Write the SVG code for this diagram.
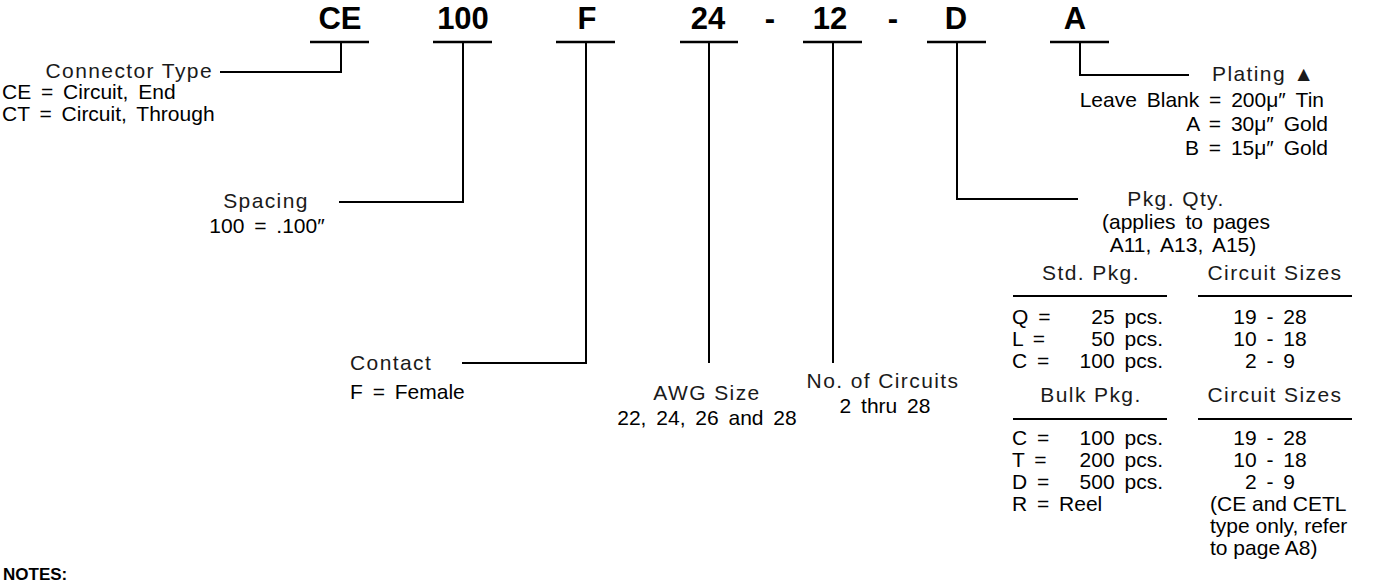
<svg xmlns="http://www.w3.org/2000/svg" width="1375" height="584" viewBox="0 0 1375 584">
<style>
text{font-family:"Liberation Sans",Arial,"DejaVu Sans",sans-serif;fill:#000}
.code{font-size:31px;font-weight:bold;text-anchor:middle}
.lbl{font-size:21px;letter-spacing:1.4px;fill:#1a1a1a}
.val{font-size:21px;word-spacing:4px}
.txt{font-size:21px}
.mid{text-anchor:middle}
.end{text-anchor:end}
.notes{font-size:17px;font-weight:bold}
.ln{stroke:#000;stroke-width:2;fill:none}
.ul{stroke:#000;stroke-width:2.5;fill:none}
</style>
<rect width="1375" height="584" fill="#fff"/>
<g id="codes">
<text class="code" x="340" y="29">CE</text>
<text class="code" x="463" y="29">100</text>
<text class="code" x="587" y="29">F</text>
<text class="code" x="708" y="29">24</text>
<text class="code" x="770" y="29">-</text>
<text class="code" x="830" y="29">12</text>
<text class="code" x="893" y="29">-</text>
<text class="code" x="956" y="29">D</text>
<text class="code" x="1075" y="29">A</text>
<path class="ul" d="M310 42H369M433 42H492M556 42H615M680 42H738M803 42H862M927 42H986M1050 42H1109"/>
</g>
<g id="connectors">
<path class="ln" d="M341 42V72H220"/>
<path class="ln" d="M463 42V202H339"/>
<path class="ln" d="M586 42V363H462"/>
<path class="ln" d="M709 42V363"/>
<path class="ln" d="M833 42V363"/>
<path class="ln" d="M957 42V199H1078"/>
<path class="ln" d="M1080 42V75H1189"/>
</g>
<g id="connector-type">
<text class="lbl end" x="213" y="78">Connector Type</text>
<text class="val" x="2" y="99">CE = Circuit, End</text>
<text class="val" x="2" y="121">CT = Circuit, Through</text>
</g>
<g id="spacing">
<text class="lbl mid" x="266" y="208">Spacing</text>
<text class="val mid" x="267" y="233">100 = .100″</text>
</g>
<g id="contact">
<text class="lbl" x="350" y="370">Contact</text>
<text class="val" x="350" y="399">F = Female</text>
</g>
<g id="awg">
<text class="lbl mid" x="707" y="400">AWG Size</text>
<text class="val mid" x="707" y="425">22, 24, 26 and 28</text>
</g>
<g id="circuits">
<text class="lbl mid" x="883" y="388">No. of Circuits</text>
<text class="val mid" x="885" y="413">2 thru 28</text>
</g>
<g id="plating">
<text class="lbl" x="1212" y="81">Plating ▲</text>
<text class="val end" x="1324" y="107">Leave Blank = 200μ″ Tin</text>
<text class="val end" x="1328" y="131">A = 30μ″ Gold</text>
<text class="val end" x="1328" y="155">B = 15μ″ Gold</text>
</g>
<g id="pkg-qty">
<text class="lbl mid" x="1176" y="206">Pkg. Qty.</text>
<text class="val mid" x="1186" y="229">(applies to pages</text>
<text class="val mid" x="1183" y="252">A11, A13, A15)</text>
<text class="lbl mid" x="1091" y="280">Std. Pkg.</text>
<text class="lbl mid" x="1275" y="280">Circuit Sizes</text>
<path class="ln" d="M1013 296H1167M1198 296H1352"/>
<text class="val" x="1012" y="324">Q =</text><text class="val end" x="1163" y="324">25 pcs.</text>
<text class="val" x="1012" y="346">L =</text><text class="val end" x="1163" y="346">50 pcs.</text>
<text class="val" x="1012" y="368">C =</text><text class="val end" x="1163" y="368">100 pcs.</text>
<text class="val mid" x="1270" y="324">19 - 28</text>
<text class="val mid" x="1270" y="346">10 - 18</text>
<text class="val mid" x="1270" y="368">2 - 9</text>
<text class="lbl mid" x="1091" y="402">Bulk Pkg.</text>
<text class="lbl mid" x="1275" y="402">Circuit Sizes</text>
<path class="ln" d="M1013 419H1167M1198 419H1352"/>
<text class="val" x="1012" y="445">C =</text><text class="val end" x="1163" y="445">100 pcs.</text>
<text class="val" x="1012" y="467">T =</text><text class="val end" x="1163" y="467">200 pcs.</text>
<text class="val" x="1012" y="489">D =</text><text class="val end" x="1163" y="489">500 pcs.</text>
<text class="val" x="1012" y="511">R = Reel</text>
<text class="val mid" x="1270" y="445">19 - 28</text>
<text class="val mid" x="1270" y="467">10 - 18</text>
<text class="val mid" x="1270" y="489">2 - 9</text>
<text class="txt" x="1210" y="511">(CE and CETL</text>
<text class="txt" x="1210" y="533">type only, refer</text>
<text class="txt" x="1210" y="555">to page A8)</text>
</g>
<g id="notes">
<text class="notes" x="3" y="580">NOTES:</text>
</g>
</svg>
